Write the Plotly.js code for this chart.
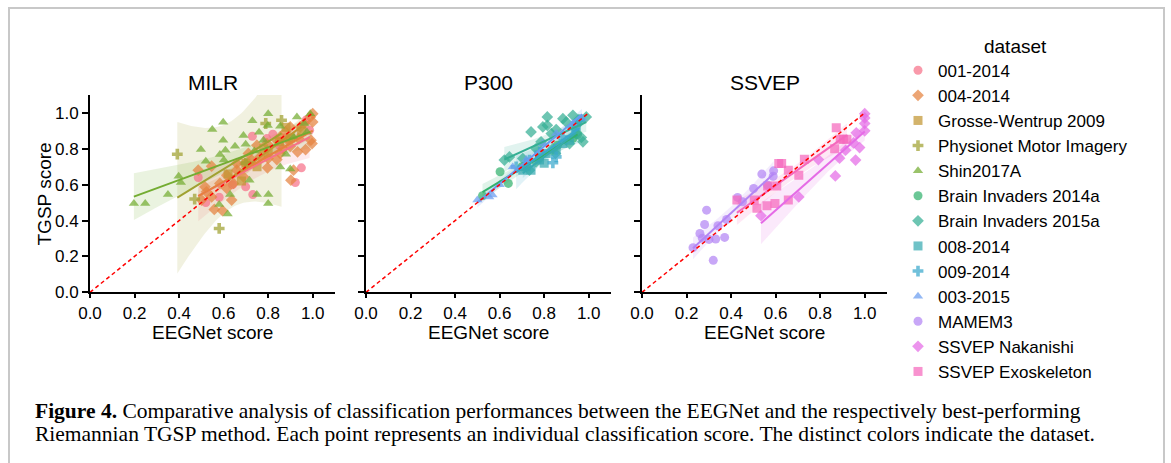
<!DOCTYPE html>
<html><head><meta charset="utf-8">
<script src="https://cdn.plot.ly/plotly-3.0.1.min.js"></script>
<style>html,body{margin:0;padding:0;background:#fff}</style>
</head><body><div id="chart" style="width:1171px;height:463px"></div>
<script>
// ---------------- DATA ----------------
const datasetNames = ['001-2014','004-2014','Grosse-Wentrup 2009','Physionet Motor Imagery','Shin2017A',
  'Brain Invaders 2014a','Brain Invaders 2015a','008-2014','009-2014','003-2015','MAMEM3','SSVEP Nakanishi','SSVEP Exoskeleton'];
const paradigmNames = ['MILR','P300','SSVEP'];
const datasetParadigm = [0,0,0,0,0,1,1,1,1,1,2,2,2];
const tickValues = [0,0.2,0.4,0.6,0.8,1.0];
const tickLabels = ['0.0','0.2','0.4','0.6','0.8','1.0'];
const xTitle = 'EEGNet score';
const yTitle = 'TGSP score';

// MILR
const x_001_2014 = [0.486,0.52,0.58,0.64,0.699,0.731,0.729,0.794,0.821,0.85,0.88,0.922,0.949,0.97,0.986];
const y_001_2014 = [0.640,0.50,0.53,0.60,0.588,0.545,0.870,0.857,0.881,0.82,0.86,0.612,0.694,0.96,0.904];
const x_004_2014 = [0.486,0.546,0.558,0.595,0.546,0.516,0.501,0.614,0.644,0.659,0.689,0.696,0.726,0.764,0.800,0.797,0.839,0.854,0.899,0.902,0.914,0.932,0.968,0.997,0.992,0.899,0.937,0.962,1.0,1.0,0.989,0.944,0.877,0.839,0.794,0.749,0.711,0.659,0.614,0.583,0.523,0.889,0.854,0.866,0.636];
const y_004_2014 = [0.681,0.703,0.462,0.455,0.532,0.588,0.514,0.579,0.607,0.681,0.644,0.718,0.737,0.755,0.746,0.694,0.740,0.774,0.814,0.625,0.681,0.783,0.796,0.829,0.848,0.922,0.857,0.941,0.996,0.950,0.978,0.922,0.894,0.848,0.829,0.820,0.774,0.718,0.653,0.607,0.560,0.848,0.866,0.801,0.514];
const x_grosse = [0.62,0.68,0.70,0.75,0.78,0.80,0.85,0.88,0.90,0.95];
const y_grosse = [0.66,0.62,0.72,0.70,0.80,0.78,0.84,0.92,0.86,0.90];
const x_physionet = [0.392,0.47,0.58,0.70,0.789,0.86];
const y_physionet = [0.77,0.52,0.356,0.72,0.941,0.959];
const x_shin = [0.197,0.248,0.350,0.398,0.408,0.498,0.549,0.598,0.598,0.583,0.608,0.601,0.520,0.651,0.689,0.699,0.729,0.759,0.800,0.798,0.854,0.880,0.899,0.854,0.929,0.962,0.989,0.749,0.801,0.800,0.629,0.580,0.618,0.716,0.738,0.779,0.914,0.974];
const y_shin = [0.495,0.495,0.545,0.647,0.612,0.796,0.907,0.948,0.848,0.768,0.792,0.737,0.731,0.814,0.874,0.826,0.957,0.892,0.996,0.930,0.926,0.770,0.688,0.699,0.978,0.941,0.996,0.545,0.545,0.495,0.545,0.490,0.436,0.625,0.788,0.848,0.866,0.894];
// P300
const x_bi2014a = [0.523,0.602,0.639,0.70,0.78,0.86,0.93,0.95];
const y_bi2014a = [0.538,0.672,0.607,0.70,0.75,0.82,0.86,0.88];
const x_bi2015a = [0.814,0.814,0.741,0.794,0.832,0.854,0.899,0.621,0.644,0.704,0.764,0.914,0.967,0.974,0.944,0.884,0.929,0.989,0.956,0.851,0.839,0.786,0.764,0.734,0.96];
const y_bi2015a = [0.978,0.931,0.894,0.922,0.885,0.907,0.950,0.737,0.755,0.746,0.801,0.829,0.863,0.839,0.885,0.968,0.987,0.978,0.963,0.774,0.801,0.839,0.727,0.681,0.95];
const x_008_2014 = [0.704,0.741,0.779,0.809,0.854,0.884,0.914,0.944,0.72,0.80];
const y_008_2014 = [0.681,0.681,0.737,0.774,0.792,0.829,0.848,0.922,0.70,0.72];
const x_009_2014 = [0.674,0.734,0.839,0.854,0.884,0.929,0.959,0.78];
const y_009_2014 = [0.699,0.737,0.722,0.755,0.866,0.922,0.959,0.78];
const x_003_2015 = [0.50,0.553,0.568,0.60,0.659,0.72,0.794,0.854,0.929,0.97];
const y_003_2015 = [0.514,0.532,0.542,0.60,0.699,0.74,0.829,0.885,0.941,0.97];
// SSVEP
const x_mamem3 = [0.229,0.260,0.281,0.290,0.271,0.301,0.320,0.331,0.341,0.371,0.380,0.429,0.451,0.501,0.538,0.591,0.589,0.564];
const y_mamem3 = [0.249,0.328,0.378,0.458,0.301,0.295,0.178,0.297,0.371,0.306,0.406,0.529,0.505,0.579,0.659,0.677,0.647,0.597];
const x_nakanishi = [0.534,0.704,0.868,0.887,0.792,0.914,0.950,0.977,0.959,0.962,1.0,1.0,1.0,1.0];
const y_nakanishi = [0.427,0.532,0.649,0.748,0.740,0.792,0.833,0.807,0.737,0.889,0.996,0.972,0.941,0.90];
const x_exo = [0.426,0.504,0.516,0.561,0.597,0.564,0.605,0.614,0.627,0.657,0.657,0.704,0.729,0.872,0.865,0.890,0.920,0.905];
const y_exo = [0.514,0.514,0.468,0.482,0.495,0.592,0.592,0.718,0.718,0.681,0.514,0.653,0.742,0.918,0.801,0.853,0.853,0.853];

const allX = [x_001_2014,x_004_2014,x_grosse,x_physionet,x_shin,x_bi2014a,x_bi2015a,x_008_2014,x_009_2014,x_003_2015,x_mamem3,x_nakanishi,x_exo];
const allY = [y_001_2014,y_004_2014,y_grosse,y_physionet,y_shin,y_bi2014a,y_bi2015a,y_008_2014,y_009_2014,y_003_2015,y_mamem3,y_nakanishi,y_exo];

// ---------------- STYLE ----------------
const colors = ['#f77189','#e5823f','#c29532','#a0a131','#73ac31','#32b16e','#35af94','#37abb1','#39a8cc','#699cf0','#b385f4','#e56be6','#f568bd'];
const symbols = ['circle','diamond','square','cross','triangle-up'];

function hexA(h,a){const r=parseInt(h.slice(1,3),16),g=parseInt(h.slice(3,5),16),b=parseInt(h.slice(5,7),16);return `rgba(${r},${g},${b},${a})`;}
function tq(df){const z=1.959964;const z3=z*z*z,z5=z3*z*z,z7=z5*z*z,z9=z7*z*z;
  return z+(z3+z)/(4*df)+(5*z5+16*z3+3*z)/(96*df*df)+(3*z7+19*z5+17*z3-15*z)/(384*df*df*df)+(79*z9+776*z7+1482*z5-1920*z3-945*z)/(92160*df*df*df*df);}
function fit(xs,ys){
  const n=xs.length;const mx=xs.reduce((a,b)=>a+b,0)/n, my=ys.reduce((a,b)=>a+b,0)/n;
  let sxx=0,sxy=0;for(let i=0;i<n;i++){sxx+=(xs[i]-mx)**2;sxy+=(xs[i]-mx)*(ys[i]-my);}
  const b=sxy/sxx,a=my-b*mx;let sse=0;for(let i=0;i<n;i++){sse+=(ys[i]-a-b*xs[i])**2;}
  const s=Math.sqrt(sse/(n-2));const t=tq(n-2);
  const lo=Math.min(...xs),hi=Math.max(...xs);const gx=[],gy=[],up=[],dn=[];
  for(let k=0;k<=60;k++){const x=lo+(hi-lo)*k/60;const y=a+b*x;const se=s*Math.sqrt(1/n+(x-mx)**2/sxx);
    gx.push(x);gy.push(y);up.push(y+t*se);dn.push(y-t*se);}
  return {gx,gy,up,dn};
}

const W=1171,H=463;
const PX=p=>p/W, PY=p=>(H-p)/H;
const axIds=['','2','3'];
const doms=[[PX(90),PX(335)],[PX(366),PX(611)],[PX(642),PX(887)]];
const ydom=[PY(292.3),PY(95)];

const bands=[],scat=[],lines=[];
for(let i=0;i<datasetNames.length;i++){
  const p=datasetParadigm[i];const xa='x'+axIds[p],ya='y'+axIds[p];
  const f=fit(allX[i],allY[i]);
  bands.push({x:f.gx.concat(f.gx.slice().reverse()),y:f.up.concat(f.dn.slice().reverse()),xaxis:xa,yaxis:ya,
    type:'scatter',mode:'lines',fill:'toself',fillcolor:hexA(colors[i],0.15),line:{width:0},showlegend:false,hoverinfo:'skip'});
  scat.push({x:allX[i],y:allY[i],xaxis:xa,yaxis:ya,type:'scatter',mode:'markers',name:datasetNames[i],
    marker:{color:colors[i],symbol:symbols[i%5],size:9,opacity:0.72,line:{width:0}}});
  lines.push({x:f.gx,y:f.gy,xaxis:xa,yaxis:ya,type:'scatter',mode:'lines',line:{color:colors[i],width:2},showlegend:false,hoverinfo:'skip'});
}
const diag=[];
for(let p=0;p<3;p++){diag.push({x:[0,1],y:[0,1],xaxis:'x'+axIds[p],yaxis:'y'+axIds[p],type:'scatter',mode:'lines',
  line:{color:'red',width:1.5,dash:'4px,3px'},showlegend:false,hoverinfo:'skip'});}

const FONT='Liberation Sans, Arial, sans-serif';
function xax(p){return {domain:doms[p],range:[0,1.1],tickvals:tickValues,ticktext:tickLabels,showline:true,linecolor:'black',linewidth:2,
  ticks:'outside',ticklen:4,tickwidth:2,tickcolor:'black',showgrid:false,zeroline:false,tickfont:{size:17,color:'black',family:FONT},
  anchor:'y'+axIds[p],fixedrange:true};}
function yax(p){return {domain:ydom,range:[0,1.1],tickvals:tickValues,ticktext:tickLabels,showline:true,linecolor:'black',linewidth:2,
  ticks:'outside',ticklen:6,tickwidth:2,tickcolor:'black',showgrid:false,zeroline:false,tickfont:{size:17,color:'black',family:FONT},
  showticklabels:p===0,anchor:'x'+axIds[p],fixedrange:true};}

const annotations=[];
const centers=[212.5,488.5,764.5];
for(let p=0;p<3;p++){
  annotations.push({text:paradigmNames[p],xref:'paper',yref:'paper',x:PX(centers[p]),y:PY(83),xanchor:'center',yanchor:'middle',
    showarrow:false,font:{size:21,color:'black',family:FONT}});
  annotations.push({text:xTitle,xref:'paper',yref:'paper',x:PX(centers[p]),y:PY(332),xanchor:'center',yanchor:'middle',
    showarrow:false,font:{size:19,color:'black',family:FONT}});
}
annotations.push({text:yTitle,xref:'paper',yref:'paper',x:PX(43.5),y:PY(194),xanchor:'center',yanchor:'middle',textangle:-90,
  showarrow:false,font:{size:19,color:'black',family:FONT}});
const SERIF='Liberation Serif, Times New Roman, serif';
annotations.push({text:'<b>Figure 4.</b> Comparative analysis of classification performances between the EEGNet and the respectively best-performing',
  xref:'paper',yref:'paper',x:PX(33),y:PY(411),xanchor:'left',yanchor:'middle',showarrow:false,font:{size:21.5,color:'black',family:SERIF}});
annotations.push({text:'Riemannian TGSP method. Each point represents an individual classification score. The distinct colors indicate the dataset.',
  xref:'paper',yref:'paper',x:PX(33),y:PY(434),xanchor:'left',yanchor:'middle',showarrow:false,font:{size:21.5,color:'black',family:SERIF}});

const layout={width:W,height:H,margin:{l:0,r:0,t:0,b:0},paper_bgcolor:'white',plot_bgcolor:'white',font:{family:FONT,color:'black'},
  xaxis:xax(0),yaxis:yax(0),xaxis2:xax(1),yaxis2:yax(1),xaxis3:xax(2),yaxis3:yax(2),
  showlegend:true,
  legend:{x:PX(898),y:PY(28),xanchor:'left',yanchor:'top',bgcolor:'rgba(0,0,0,0)',borderwidth:0,maxheight:440,font:{size:17,color:'black',family:FONT},
    title:{text:'dataset',side:'top center',font:{size:19,color:'black',family:FONT}},itemsizing:'trace',traceorder:'normal'},
  annotations:annotations,
  shapes:[{type:'rect',xref:'paper',yref:'paper',x0:PX(9),x1:PX(1164),y0:PY(480),y1:PY(8),line:{color:'#c8c8c8',width:2},fillcolor:'rgba(0,0,0,0)'}]
};
Plotly.newPlot('chart',bands.concat(scat,lines,diag),layout,{staticPlot:true,displayModeBar:false});
</script></body></html>
